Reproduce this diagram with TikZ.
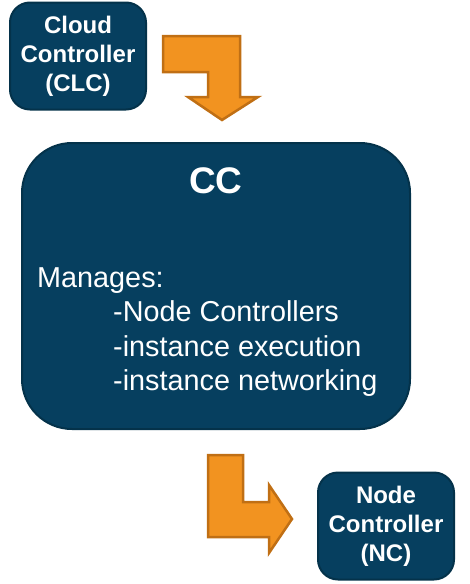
\documentclass[tikz,border=0pt]{standalone}
\usepackage{fontspec}
\setmainfont{Liberation Sans}
\usepackage{xcolor}
\definecolor{boxblue}{HTML}{063F5F}
\definecolor{boxedge}{HTML}{04324A}
\definecolor{flowfill}{HTML}{F29320}
\definecolor{flowedge}{HTML}{C06F14}

\begin{document}
\begin{tikzpicture}[x=1pt,y=-1pt,
  ctrl/.style={draw=boxedge,line width=2pt,fill=boxblue,text=white,
    font=\bfseries\fontsize{24}{29}\selectfont,align=center,
    rounded corners=20pt,minimum width=136pt,minimum height=107pt,inner sep=0pt},
  flow/.style={draw=flowedge,line width=2.5pt,fill=flowfill,line join=miter}]
  \useasboundingbox (0,0) rectangle (470,584);

  % controllers
  \node[ctrl] (clc) at (78,56) {Cloud\\Controller\\(CLC)};
  \node[ctrl,rounded corners=50pt,minimum width=388pt,minimum height=286pt] (cc) at (216,286) {};
  \node[ctrl] (nc) at (386,526) {Node\\Controller\\(NC)};

  % text of the cluster controller
  \node[anchor=base,text=white,inner sep=0pt,font=\bfseries\fontsize{37}{44}\selectfont] (cctitle) at (216,193) {CC};
  \node[anchor=north west,text=white,inner sep=0pt,align=left,font=\fontsize{28.8}{34.5}\selectfont] (ccjobs) at (37,267)
    {Manages:\\\hspace*{76pt}-Node Controllers\\\hspace*{76pt}-instance execution\\\hspace*{76pt}-instance networking};

  % bent arrow from CLC down to CC
  \draw[flow] (163,36) -- (240,36) -- (240,97) -- (258,97) -- (222,120)
    -- (188,97) -- (208,97) -- (208,72) -- (163,72) -- cycle;

  % bent arrow from CC over to NC
  \draw[flow] (208,455) -- (243,455) -- (243,502) -- (269,502) -- (269,485)
    -- (292,519) -- (269,553) -- (269,537) -- (208,537) -- cycle;
\end{tikzpicture}
\end{document}
